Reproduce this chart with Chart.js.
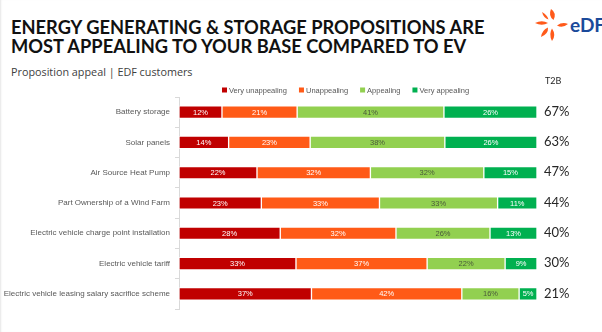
<!DOCTYPE html>
<html>
<head>
<meta charset="utf-8">
<script src="https://cdn.jsdelivr.net/npm/chart.js@4/dist/chart.umd.min.js"></script>
<style>
  html, body { margin: 0; padding: 0; background: #fff; }
  #wrap { position: relative; width: 602px; height: 332px; overflow: hidden; box-shadow: inset 2px 0 2px -1px #e6e6e6; }
  #titulo {
    position: absolute; left: 11px; top: 18px; margin: 0;
    font-family: "Lato", sans-serif; font-weight: 700; font-size: 18.3px;
    line-height: 18.5px; color: #111; white-space: nowrap;
  }
  #subtitulo {
    position: absolute; left: 11px; top: 64px;
    font-family: "Open Sans", sans-serif; font-size: 10.8px; color: #404040;
  }
  #logo { position: absolute; left: 533px; top: 8px; }
  #grafico { position: absolute; left: 0; top: 0; }
</style>
</head>
<body>
<div id="wrap">
  <h1 id="titulo">ENERGY GENERATING &amp; STORAGE PROPOSITIONS ARE<br>MOST APPEALING TO YOUR BASE COMPARED TO EV</h1>
  <div id="subtitulo">Proposition appeal | EDF customers</div>
  <svg id="logo" width="75" height="34" viewBox="0 0 75 34">
    <g fill="#ff5a1a">
      <path d="M2 15 Q9 11.5 15 15 Q9 18.5 2 15 Z"/>
      <path d="M18 1 Q24 5 20.5 12 Q15 8 18 1 Z"/>
      <path d="M8 29 Q9 22 15 19.5 Q15.5 26 8 29 Z"/>
      <path d="M19 33 Q15.5 26 19 20.5 Q23.5 27 19 33 Z"/>
      <path d="M9 4 Q14 6.5 15.5 11.5 Q10.5 10 9 4 Z"/>
      <path d="M24 17.5 Q29.5 13.5 35 16 Q29.5 20.5 24 17.5 Z"/>
    </g>
    <text x="37" y="23.5" font-family="Lato, sans-serif" font-weight="700" font-size="19" fill="#1b4a9a">eDF</text>
  </svg>
  <canvas id="grafico" width="602" height="332"></canvas>
</div>
<script>
const categorias = [
  "Battery storage",
  "Solar panels",
  "Air Source Heat Pump",
  "Part Ownership of a Wind Farm",
  "Electric vehicle charge point installation",
  "Electric vehicle tariff",
  "Electric vehicle leasing salary sacrifice scheme"
];

const muyPoco = [12, 14, 22, 23, 28, 33, 37];
const poco = [21, 23, 32, 33, 32, 37, 42];
const atractivo = [41, 38, 32, 33, 26, 22, 16];
const muyAtractivo = [26, 26, 15, 11, 13, 9, 5];

const t2b = [67, 63, 47, 44, 40, 30, 21];

const series = [
  { label: "Very unappealing", valores: muyPoco, color: "#c00000", texto: "#ffffff" },
  { label: "Unappealing", valores: poco, color: "#ff5a17", texto: "#ffffff" },
  { label: "Appealing", valores: atractivo, color: "#92d050", texto: "#4a5a3a" },
  { label: "Very appealing", valores: muyAtractivo, color: "#00b050", texto: "#ffffff" }
];

// cada fila ocupa el ancho completo (algunas suman 99 o 101 por redondeo)
const totales = categorias.map((_, i) => series.reduce((s, serie) => s + serie.valores[i], 0));

const FUENTE_ARIAL = "'Liberation Sans', Arial, sans-serif";

const etiquetasBarras = {
  id: "etiquetasBarras",
  afterDatasetsDraw(chart) {
    const ctx = chart.ctx;
    ctx.save();
    ctx.font = "7.5px " + FUENTE_ARIAL;
    ctx.textAlign = "center";
    ctx.textBaseline = "middle";
    chart.data.datasets.forEach((ds, i) => {
      const meta = chart.getDatasetMeta(i);
      meta.data.forEach((bar, j) => {
        ctx.fillStyle = series[i].texto;
        ctx.fillText(series[i].valores[j] + "%", (bar.x + bar.base) / 2, bar.y + 0.5);
      });
    });

    const area = chart.chartArea;
    const yScale = chart.scales.y;
    ctx.textAlign = "left";
    ctx.fillStyle = "#262626";
    ctx.font = "13px Lato, sans-serif";
    t2b.forEach((v, j) => {
      ctx.fillText(v + "%", area.right + 7, yScale.getPixelForValue(j) - 0.5);
    });
    ctx.font = "9px Lato, sans-serif";
    ctx.fillText("T2B", area.right + 8, 81.5);

    // leyenda
    ctx.font = "7.5px " + FUENTE_ARIAL;
    let x = 222;
    const yLeyenda = 90;
    series.forEach((s) => {
      ctx.fillStyle = s.color;
      ctx.fillRect(x, yLeyenda - 2.5, 5, 5);
      ctx.fillStyle = "#595959";
      ctx.fillText(s.label, x + 7, yLeyenda + 0.5);
      x += 7 + ctx.measureText(s.label).width + 12;
    });
    ctx.restore();
  }
};

new Chart(document.getElementById("grafico"), {
  type: "bar",
  data: {
    labels: categorias,
    datasets: series.map((s) => ({
      label: s.label,
      data: s.valores.map((v, i) => (v / totales[i]) * 100),
      backgroundColor: s.color,
      borderColor: "rgba(255,255,255,0.7)",
      borderWidth: 1,
      borderSkipped: false,
      barThickness: 12.5
    }))
  },
  options: {
    indexAxis: "y",
    responsive: false,
    animation: false,
    layout: {
      padding: { top: 97, right: 65, bottom: 23, left: 0 }
    },
    plugins: {
      legend: { display: false },
      tooltip: { enabled: false }
    },
    scales: {
      x: {
        stacked: true,
        min: 0,
        max: 100,
        display: false
      },
      y: {
        stacked: true,
        afterFit(scale) {
          scale.width = 179;
        },
        grid: {
          display: true,
          drawOnChartArea: false,
          offset: true,
          tickLength: 4,
          color: "#d9d9d9"
        },
        border: {
          display: true,
          color: "#d9d9d9"
        },
        ticks: {
          padding: 5,
          color: "#595959",
          font: { size: 8, family: FUENTE_ARIAL }
        }
      }
    }
  },
  plugins: [etiquetasBarras]
});
</script>
</body>
</html>
